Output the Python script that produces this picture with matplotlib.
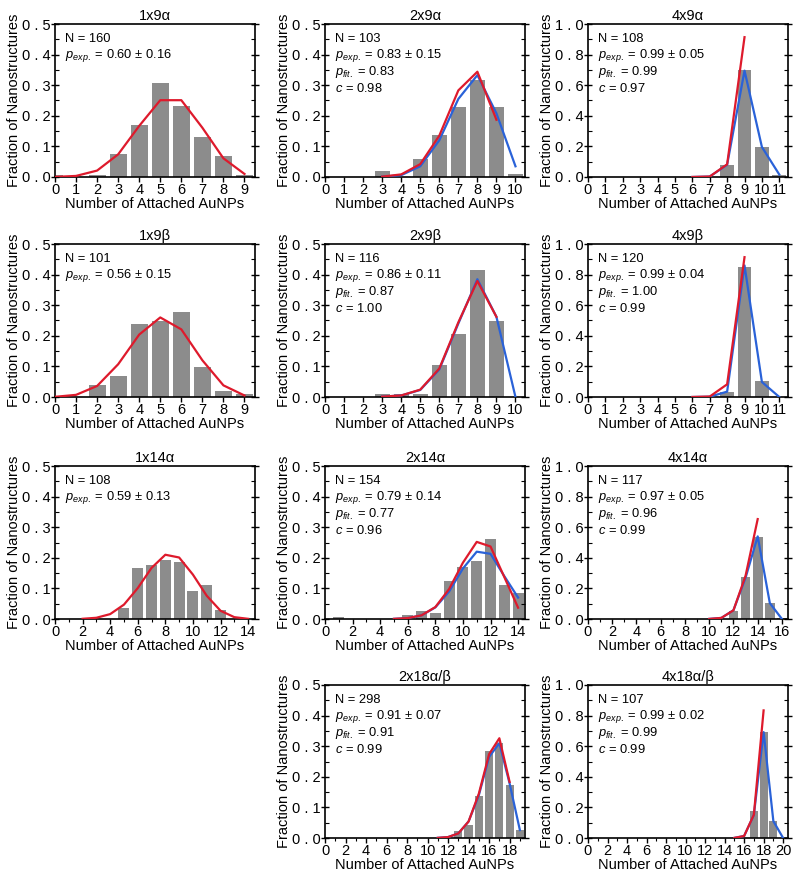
import numpy as np
import matplotlib
matplotlib.use("Agg")
import matplotlib.pyplot as plt
from matplotlib.ticker import MultipleLocator, FuncFormatter

plt.rcParams['font.family'] = ['Liberation Sans', 'DejaVu Sans']
plt.rcParams['mathtext.fontset'] = 'custom'
plt.rcParams['mathtext.rm'] = 'Liberation Sans'
plt.rcParams['mathtext.it'] = 'Liberation Sans:italic'

BAR = '#8c8c8c'
RED = '#de1a2c'
BLUE = '#2a62d8'

# ---- data ----
# 1x9 alpha
bx_1x9a = np.arange(0, 10)
by_1x9a = [0.006, 0, 0.006, 0.075, 0.169, 0.306, 0.231, 0.131, 0.069, 0.006]
rx_1x9a = np.arange(0, 10)
ry_1x9a = [0.0003, 0.0035, 0.021, 0.074, 0.167, 0.251, 0.251, 0.161, 0.061, 0.010]

# 2x9 alpha
bx_2x9a = np.arange(3, 11)
by_2x9a = [0.019, 0, 0.058, 0.136, 0.228, 0.318, 0.230, 0.010]
rx_2x9a = np.arange(3, 10)
ry_2x9a = [0.0012, 0.0085, 0.042, 0.135, 0.283, 0.344, 0.187]
lx_2x9a = np.arange(3, 11)
ly_2x9a = [0.001, 0.006, 0.035, 0.12, 0.255, 0.333, 0.208, 0.035]

# 4x9 alpha
bx_4x9a = np.arange(8, 12)
by_4x9a = [0.081, 0.699, 0.196, 0.010]
rx_4x9a = np.arange(6, 10)
ry_4x9a = [0.0001, 0.003, 0.083, 0.914]
lx_4x9a = np.arange(6, 12)
ly_4x9a = [0.0001, 0.003, 0.08, 0.695, 0.196, 0.016]

# 1x9 beta
bx_1x9b = np.arange(0, 10)
by_1x9b = [0, 0, 0.040, 0.069, 0.238, 0.248, 0.277, 0.099, 0.020, 0.010]
rx_1x9b = np.arange(0, 10)
ry_1x9b = [0.0006, 0.007, 0.036, 0.107, 0.204, 0.260, 0.221, 0.120, 0.038, 0.005]

# 2x9 beta
bx_2x9b = np.arange(3, 10)
by_2x9b = [0.0086, 0.0086, 0.0086, 0.103, 0.207, 0.414, 0.250]
rx_2x9b = np.arange(3, 10)
ry_2x9b = [0.0012, 0.005, 0.024, 0.093, 0.244, 0.379, 0.262]
lx_2x9b = np.arange(3, 11)
ly_2x9b = [0.0012, 0.005, 0.023, 0.09, 0.24, 0.385, 0.262, 0.0]

# 4x9 beta
bx_4x9b = np.arange(8, 12)
by_4x9b = [0.033, 0.848, 0.104, 0.0]
rx_4x9b = np.arange(6, 10)
ry_4x9b = [0.0001, 0.003, 0.083, 0.914]
lx_4x9b = np.arange(6, 12)
ly_4x9b = [0.0, 0.002, 0.035, 0.86, 0.098, 0.0]

# 1x14 alpha
bx_1x14a = np.arange(5, 13)
by_1x14a = [0.037, 0.167, 0.176, 0.194, 0.185, 0.093, 0.111, 0.028]
rx_1x14a = np.arange(2, 15)
ry_1x14a = [0.0007, 0.004, 0.016, 0.047, 0.101, 0.167, 0.210, 0.201, 0.145, 0.076, 0.027, 0.006, 0.0006]

# 2x14 alpha
bx_2x14a = np.arange(1, 15)
by_2x14a = [0.0065, 0, 0, 0, 0, 0.013, 0.026, 0.0195, 0.123, 0.169, 0.188, 0.260, 0.110, 0.084]
rx_2x14a = np.arange(5, 15)
ry_2x14a = [0.0005, 0.003, 0.012, 0.039, 0.098, 0.184, 0.252, 0.237, 0.137, 0.037]
lx_2x14a = np.arange(5, 15)
ly_2x14a = [0.0005, 0.003, 0.012, 0.038, 0.09, 0.165, 0.22, 0.213, 0.14, 0.07]

# 4x14 alpha
bx_4x14a = np.arange(12, 17)
by_4x14a = [0.051, 0.274, 0.538, 0.103, 0.0085]
rx_4x14a = np.arange(10, 15)
ry_4x14a = [0.0006, 0.007, 0.057, 0.283, 0.653]
lx_4x14a = np.arange(10, 17)
ly_4x14a = [0.0006, 0.007, 0.057, 0.27, 0.54, 0.104, 0.0]

# 2x18 alpha/beta
bx_2x18 = np.arange(13, 20)
by_2x18 = [0.0235, 0.0436, 0.1376, 0.285, 0.309, 0.1745, 0.0268]
rx_2x18 = np.arange(11, 19)
ry_2x18 = [0.0005, 0.003, 0.015, 0.054, 0.145, 0.274, 0.326, 0.183]
lx_2x18 = np.arange(11, 20)
ly_2x18 = [0.0005, 0.003, 0.015, 0.054, 0.14, 0.265, 0.31, 0.178, 0.026]

# 4x18 alpha/beta
bx_4x18 = np.arange(17, 20)
by_4x18 = [0.178, 0.692, 0.112]
rx_4x18 = np.arange(15, 19)
ry_4x18 = [0.0007, 0.013, 0.152, 0.834]
lx_4x18 = np.arange(15, 21)
ly_4x18 = [0.0007, 0.013, 0.15, 0.692, 0.11, 0.0]

titles = ['1x9α', '2x9α', '4x9α', '1x9β', '2x9β', '4x9β',
          '1x14α', '2x14α', '4x14α', '2x18α/β', '4x18α/β']
n_vals = [160, 103, 108, 101, 116, 120, 108, 154, 117, 298, 107]
p_exp = ['0.60 ± 0.16', '0.83 ± 0.15', '0.99 ± 0.05', '0.56 ± 0.15', '0.86 ± 0.11',
         '0.99 ± 0.04', '0.59 ± 0.13', '0.79 ± 0.14', '0.97 ± 0.05', '0.91 ± 0.07',
         '0.99 ± 0.02']
p_fit = [None, '0.83', '0.99', None, '0.87', '1.00', None, '0.77', '0.96', '0.91', '0.99']
c_vals = [None, '0.98', '0.97', None, '1.00', '0.99', None, '0.96', '0.99', '0.99', '0.99']
x_max = [9, 10, 11, 9, 10, 11, 14, 14, 16, 19, 20]

panels = [
    (bx_1x9a, by_1x9a, rx_1x9a, ry_1x9a, None, None),
    (bx_2x9a, by_2x9a, rx_2x9a, ry_2x9a, lx_2x9a, ly_2x9a),
    (bx_4x9a, by_4x9a, rx_4x9a, ry_4x9a, lx_4x9a, ly_4x9a),
    (bx_1x9b, by_1x9b, rx_1x9b, ry_1x9b, None, None),
    (bx_2x9b, by_2x9b, rx_2x9b, ry_2x9b, lx_2x9b, ly_2x9b),
    (bx_4x9b, by_4x9b, rx_4x9b, ry_4x9b, lx_4x9b, ly_4x9b),
    (bx_1x14a, by_1x14a, rx_1x14a, ry_1x14a, None, None),
    (bx_2x14a, by_2x14a, rx_2x14a, ry_2x14a, lx_2x14a, ly_2x14a),
    (bx_4x14a, by_4x14a, rx_4x14a, ry_4x14a, lx_4x14a, ly_4x14a),
    (bx_2x18, by_2x18, rx_2x18, ry_2x18, lx_2x18, ly_2x18),
    (bx_4x18, by_4x18, rx_4x18, ry_4x18, lx_4x18, ly_4x18),
]

# grid slots (row, col) for each panel
slots = [(0, 0), (0, 1), (0, 2), (1, 0), (1, 1), (1, 2),
         (2, 0), (2, 1), (2, 2), (3, 1), (3, 2)]

W, H = 800, 880
col_left = [55, 325, 588]
row_top = [24, 244, 466, 685]
ax_w, ax_h = 200, 153

fig = plt.figure(figsize=(8, 8.8), dpi=100)

yfmt = FuncFormatter(lambda v, pos: ('%.1f' % v).replace('.', ' . '))

for i, (bx, by, rx, ry, lx, ly) in enumerate(panels):
    r, c = slots[i]
    left = col_left[c] / W
    bottom = (H - row_top[r] - ax_h) / H
    ax = fig.add_axes([left, bottom, ax_w / W, ax_h / H])

    ax.bar(bx, by, width=0.8, color=BAR, zorder=1)
    if lx is not None:
        ax.plot(lx, ly, color=BLUE, lw=1.6, zorder=3)
    ax.plot(rx, ry, color=RED, lw=1.6, zorder=4)

    big = max(by) > 0.5
    ytop = 1.0 if big else 0.5
    ax.set_ylim(0, ytop)
    ax.yaxis.set_major_locator(MultipleLocator(0.2 if big else 0.1))
    ax.yaxis.set_minor_locator(MultipleLocator(0.1 if big else 0.05))
    ax.yaxis.set_major_formatter(yfmt)

    xm = x_max[i]
    ax.set_xlim(0, xm + 0.5)
    ax.xaxis.set_major_locator(MultipleLocator(1 if xm <= 11 else 2))
    ax.xaxis.set_minor_locator(MultipleLocator(1))

    ax.tick_params(axis='y', which='major', direction='inout', length=6, width=1,
                   left=True, right=True, labelsize=10.5, pad=0)
    ax.tick_params(axis='y', which='minor', direction='in', length=3, width=0.8,
                   left=True, right=True)
    ax.tick_params(axis='x', which='major', direction='out', length=3.5, width=1,
                   top=False, labelsize=10.5, pad=1)
    ax.tick_params(axis='x', which='minor', direction='out', length=2, width=0.8)
    for s in ax.spines.values():
        s.set_linewidth(1.2)

    ax.set_title(titles[i], fontsize=10.5, pad=3)
    ax.set_ylabel('Fraction of Nanostructures', fontsize=10.5, labelpad=1)
    ax.set_xlabel('Number of Attached AuNPs', fontsize=10.5, labelpad=0)

    lines = ['N = %d' % n_vals[i], r'$p_{exp.}$ = ' + p_exp[i]]
    if p_fit[i] is not None:
        lines.append(r'$p_{fit.}$ = ' + p_fit[i])
        lines.append(r'$c$ = ' + c_vals[i])
    for j, t in enumerate(lines):
        ax.text(0.05, 0.9 - j * 0.107, t, transform=ax.transAxes,
                fontsize=9.3, va='center', ha='left')

fig.savefig('out.png', dpi=100)
